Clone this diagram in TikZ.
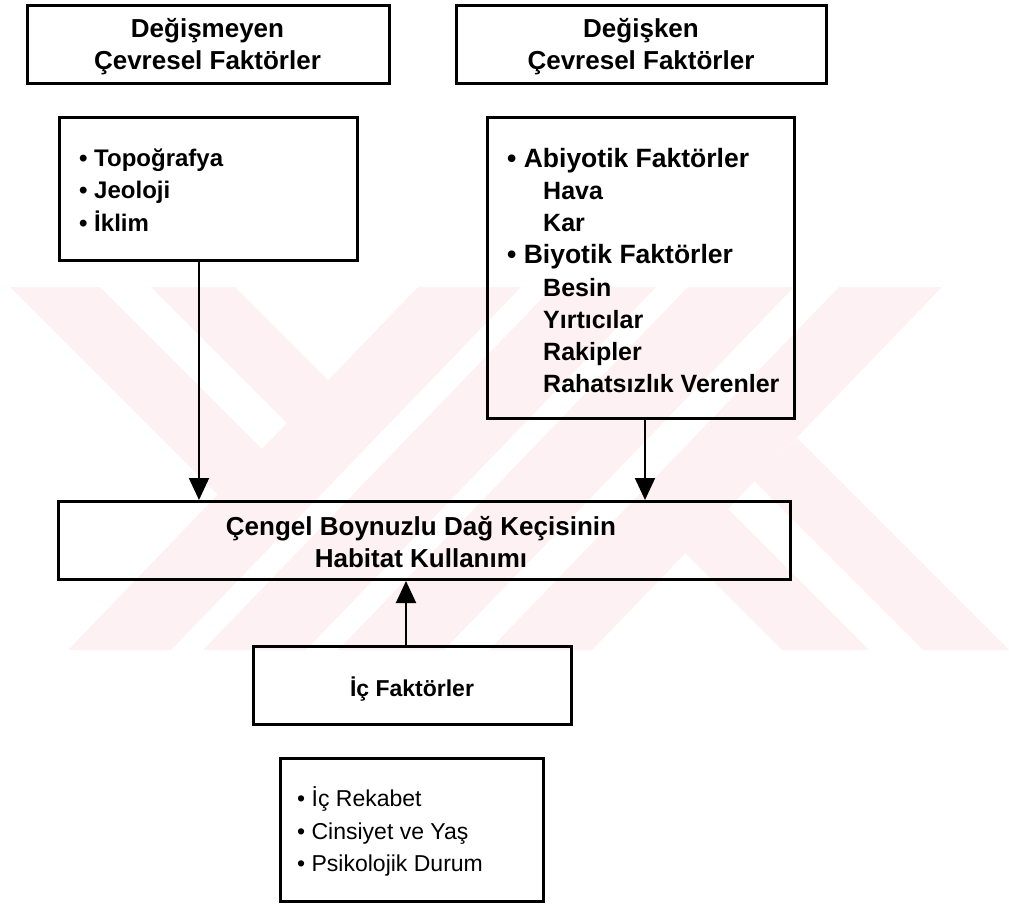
\documentclass[tikz,border=0pt]{standalone}
\usepackage{fontspec}
\setmainfont{Liberation Sans}
\usetikzlibrary{arrows.meta}
\definecolor{wm}{RGB}{254,241,243}
\begin{document}
\begin{tikzpicture}[x=1pt,y=-1pt,
  frame/.style={draw=black,line width=2.6pt,inner sep=0pt,fill=none},
  hd/.style={font=\fontsize{26}{32}\selectfont\bfseries,align=center,inner sep=0pt},
  itemA/.style={anchor=base west,inner sep=0pt,font=\fontsize{24}{30}\selectfont\bfseries},
  itemB/.style={anchor=base west,inner sep=0pt,font=\fontsize{26.5}{32}\selectfont\bfseries},
  itemC/.style={anchor=base west,inner sep=0pt,font=\fontsize{25}{32}\selectfont\bfseries},
  itemD/.style={anchor=base west,inner sep=0pt,font=\fontsize{23}{32}\selectfont},
  arr/.style={draw=black,line width=2pt,-{Triangle[length=22pt,width=20pt]}}]
\useasboundingbox (0,0) rectangle (1009,905);

% faint watermark
\begin{scope}
\clip (0,287) rectangle (1009,650);
\fill[wm] (10,287) -- (100,287) -- (314,501) -- (218,495) -- cycle;
\fill[wm] (151,287) -- (235,287) -- (328,380) -- (287,423) -- cycle;
\fill[wm] (68,650) -- (171,650) -- (521,287) -- (418,287) -- cycle;
\fill[wm] (203,650) -- (306,650) -- (656,287) -- (553,287) -- cycle;
\fill[wm] (338,650) -- (444,650) -- (794,287) -- (688,287) -- cycle;
\fill[wm] (489,650) -- (592,650) -- (942,287) -- (839,287) -- cycle;
\fill[wm] (782,650) -- (869,650) -- (728,509) -- (685,553) -- cycle;
\fill[wm] (923,650) -- (1009,650) -- (797,438) -- (754,481) -- cycle;
\end{scope}

% header boxes
\node[frame,minimum width=362.4pt,minimum height=78.4pt] (h1) at (208.5,44.5) {};
\node[hd] (h1t) at (207.5,47) {Değişmeyen\\Çevresel Faktörler};
\node[frame,minimum width=370.4pt,minimum height=78.4pt] (h2) at (641.5,44.5) {};
\node[hd] (h2t) at (641,47) {Değişken\\Çevresel Faktörler};

% left list
\node[frame,minimum width=298.4pt,minimum height=143.4pt] (lst1) at (208.5,189) {};
\node[itemA] (l1) at (79,166) {• Topoğrafya};
\node[itemA] (l2) at (79,198.5) {• Jeoloji};
\node[itemA] (l3) at (79,231) {• İklim};

% right list
\node[frame,minimum width=307.4pt,minimum height=301.4pt] (lst2) at (641,268) {};
\node[itemB] (r1) at (507,167) {• Abiyotik Faktörler};
\node[itemC] (r2) at (543,199) {Hava};
\node[itemC] (r3) at (543,231) {Kar};
\node[itemB] (r4) at (507,263.5) {• Biyotik Faktörler};
\node[itemC] (r5) at (543,296) {Besin};
\node[itemC] (r6) at (543,328) {Yırtıcılar};
\node[itemC] (r7) at (543,360) {Rakipler};
\node[itemC] (r8) at (543,392) {Rahatsızlık Verenler};

% main box
\node[frame,minimum width=732.4pt,minimum height=78.4pt] (main) at (424.5,540.5) {};
\node[hd] (maint) at (421,542.5) {Çengel Boynuzlu Dağ Keçisinin\\Habitat Kullanımı};

% internal factors
\node[frame,minimum width=318.4pt,minimum height=78.4pt] (ic) at (412.5,685.5) {};
\node[anchor=base,inner sep=0pt,font=\fontsize{23}{30}\selectfont\bfseries] (ict) at (412,696) {İç Faktörler};

% bottom list
\node[frame,minimum width=263.4pt,minimum height=143.4pt] (lst3) at (412,830) {};
\node[itemD] (b1) at (297,806.5) {• İç Rekabet};
\node[itemD] (b2) at (297,839) {• Cinsiyet ve Yaş};
\node[itemD] (b3) at (297,871.5) {• Psikolojik Durum};

% connectors
\draw[arr] ([xshift=-9.5pt]lst1.south) -- ([xshift=-9.5pt]lst1.south |- main.north);
\draw[arr] ([xshift=4pt]lst2.south) -- ([xshift=4pt]lst2.south |- main.north);
\draw[arr] ([xshift=-6.5pt]ic.north) -- ([xshift=-6.5pt]ic.north |- main.south);
\end{tikzpicture}
\end{document}
